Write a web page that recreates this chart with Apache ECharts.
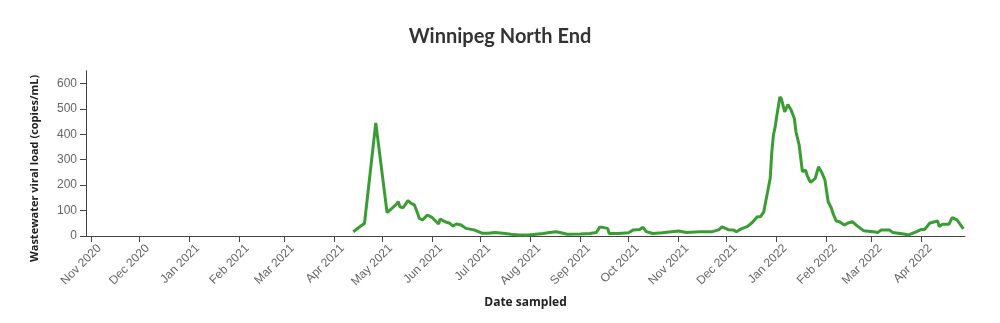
<!DOCTYPE html>
<html>
<head>
<meta charset="utf-8">
<script src="https://cdn.jsdelivr.net/npm/echarts@6/dist/echarts.min.js"></script>
<style>
html,body{margin:0;padding:0;background:#fff;}
#chart{width:1000px;height:323px;}
</style>
</head>
<body>
<div id="chart"></div>
<script>
const title = 'Winnipeg North End';
const yAxisTitle = 'Wastewater viral load (copies/mL)';
const xAxisTitle = 'Date sampled';
const monthNames = ['Jan','Feb','Mar','Apr','May','Jun','Jul','Aug','Sep','Oct','Nov','Dec'];
const xMin = '2020-10-29';
const xMax = '2022-04-28';
const yMax = 650;
const yInterval = 100;

const dates = [
 '2021-04-13','2021-04-20','2021-04-27','2021-05-04','2021-05-07','2021-05-10','2021-05-11','2021-05-12',
 '2021-05-14','2021-05-17','2021-05-19','2021-05-21','2021-05-23','2021-05-24','2021-05-26','2021-05-29',
 '2021-06-01','2021-06-03','2021-06-05','2021-06-06','2021-06-09','2021-06-12','2021-06-14','2021-06-16',
 '2021-06-19','2021-06-22','2021-06-27','2021-07-02','2021-07-06','2021-07-10','2021-07-15','2021-07-20',
 '2021-07-25','2021-07-31','2021-08-09','2021-08-13','2021-08-17','2021-08-20','2021-08-24','2021-09-01',
 '2021-09-07','2021-09-11','2021-09-13','2021-09-15','2021-09-18','2021-09-19','2021-09-25','2021-10-01',
 '2021-10-04','2021-10-08','2021-10-10','2021-10-12','2021-10-16','2021-10-22','2021-11-01','2021-11-06',
 '2021-11-14','2021-11-22','2021-11-26','2021-11-28','2021-12-02','2021-12-05','2021-12-07','2021-12-10',
 '2021-12-14','2021-12-17','2021-12-20','2021-12-22','2021-12-24','2021-12-26','2021-12-28','2021-12-29',
 '2021-12-30','2021-12-31','2022-01-01','2022-01-03','2022-01-04','2022-01-06','2022-01-08','2022-01-10',
 '2022-01-12','2022-01-13','2022-01-15','2022-01-17','2022-01-19','2022-01-20','2022-01-22','2022-01-25',
 '2022-01-27','2022-01-29','2022-01-31','2022-02-02','2022-02-04','2022-02-05','2022-02-07','2022-02-09',
 '2022-02-12','2022-02-14','2022-02-17','2022-02-20','2022-02-24','2022-03-02','2022-03-05','2022-03-07',
 '2022-03-12','2022-03-14','2022-03-21','2022-03-24','2022-03-29','2022-04-01','2022-04-03','2022-04-06',
 '2022-04-08','2022-04-11','2022-04-12','2022-04-14','2022-04-18','2022-04-20','2022-04-23','2022-04-25',
 '2022-04-27'
];
const values = [
 17,50,445,92,109,126,135,115,
 111,139,128,122,89,70,63,82,
 73,60,47,67,56,50,39,47,
 43,30,24,11,11,14,11,7,
 4,4,10,14,17,13,7,8,
 10,14,34,34,30,10,10,13,
 24,26,34,17,10,13,20,14,
 17,17,24,36,25,24,17,28,
 38,54,76,76,95,161,227,331,
 397,426,469,547,538,488,517,495,
 462,410,357,253,259,237,211,227,
 272,250,220,135,109,89,59,56,
 43,50,56,40,21,17,14,24,
 24,14,8,4,17,26,26,50,
 54,59,37,46,46,72,63,46,
 28
];

const seriesData = dates.map((d, i) => [d, values[i]]);
const DAY = 86400000;

const chart = echarts.init(document.getElementById('chart'), null, {renderer: 'canvas'});
chart.setOption({
  animation: false,
  backgroundColor: '#ffffff',
  title: {
    text: title,
    left: 'center',
    top: 22,
    textStyle: {fontFamily: 'Lato', fontWeight: 'bold', fontSize: 20, color: '#333333'}
  },
  grid: {left: 86, right: 35, top: 70.7, bottom: 87, containLabel: false},
  xAxis: {
    type: 'time',
    min: xMin,
    max: xMax,
    minInterval: 28 * DAY,
    maxInterval: 31 * DAY,
    splitNumber: 18,
    name: xAxisTitle,
    nameLocation: 'middle',
    nameGap: 61,
    nameTextStyle: {fontFamily: 'Open Sans', fontWeight: 'bold', fontSize: 12, color: '#222222'},
    axisLine: {lineStyle: {color: '#444444', width: 1}},
    axisTick: {show: true, length: 6, lineStyle: {color: '#444444'}},
    splitLine: {show: false},
    axisLabel: {
      rotate: 45,
      margin: 2,
      verticalAlign: 'top',
      padding: [6, 0, 0, 0],
      showMinLabel: false,
      showMaxLabel: false,
      fontFamily: 'Liberation Sans',
      fontSize: 12,
      color: '#666666',
      formatter: function (v) {
        const d = new Date(v);
        return monthNames[d.getMonth()] + ' ' + d.getFullYear();
      }
    }
  },
  yAxis: {
    type: 'value',
    min: 0,
    max: yMax,
    interval: yInterval,
    name: yAxisTitle,
    nameLocation: 'middle',
    nameGap: 46,
    nameTextStyle: {fontFamily: 'Open Sans', fontWeight: 'bold', fontSize: 11, color: '#222222', padding: [0, 30, 0, 0]},
    axisLine: {show: true, lineStyle: {color: '#444444', width: 1}},
    axisTick: {show: true, length: 6, lineStyle: {color: '#444444'}},
    splitLine: {show: false},
    axisLabel: {
      margin: 9,
      showMaxLabel: false,
      fontFamily: 'Liberation Sans',
      fontSize: 12,
      color: '#666666'
    }
  },
  series: [{
    type: 'line',
    data: seriesData,
    showSymbol: false,
    symbol: 'none',
    lineStyle: {color: '#3a9d33', width: 3},
    itemStyle: {color: '#3a9d33'}
  }]
});
</script>
</body>
</html>
